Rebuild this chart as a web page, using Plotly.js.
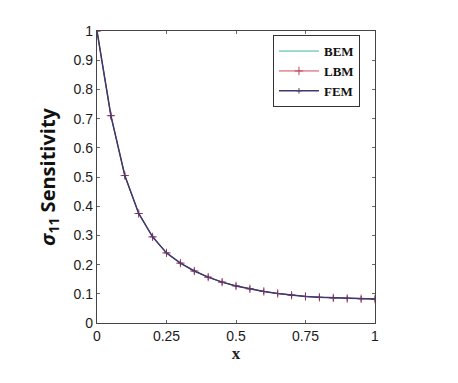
<!DOCTYPE html>
<html>
<head>
<meta charset="utf-8">
<script src="https://cdn.plot.ly/plotly-3.0.1.min.js"></script>
<style>
  body { margin: 0; background: #fff; }
  #chart { width: 458px; height: 383px; }
</style>
</head>
<body>
<div id="chart"></div>
<script>
// x positions and sensitivity values
var xVals = [0, 0.05, 0.1, 0.15, 0.2, 0.25, 0.3, 0.35, 0.4, 0.45, 0.5,
             0.55, 0.6, 0.65, 0.7, 0.75, 0.8, 0.85, 0.9, 0.95, 1];
var bemVals = [1, 0.71, 0.505, 0.375, 0.295, 0.24, 0.205, 0.178, 0.157, 0.14, 0.127,
               0.117, 0.108, 0.101, 0.095, 0.091, 0.088, 0.086, 0.084, 0.083, 0.082];
var lbmVals = [1, 0.71, 0.505, 0.375, 0.295, 0.24, 0.205, 0.178, 0.157, 0.14, 0.127,
               0.117, 0.108, 0.101, 0.095, 0.091, 0.088, 0.086, 0.084, 0.083, 0.082];
var femVals = [1, 0.71, 0.505, 0.375, 0.295, 0.24, 0.205, 0.178, 0.157, 0.14, 0.127,
               0.117, 0.108, 0.101, 0.095, 0.091, 0.088, 0.086, 0.084, 0.083, 0.082];

var xTicks = [0, 0.25, 0.5, 0.75, 1];
var xTickText = ["0", "0.25", "0.5", "0.75", "1"];
var yTicks = [0, 0.1, 0.2, 0.3, 0.4, 0.5, 0.6, 0.7, 0.8, 0.9, 1];
var yTickText = ["0", "0.1", "0.2", "0.3", "0.4", "0.5", "0.6", "0.7", "0.8", "0.9", "1"];

var bem = {
  x: xVals, y: bemVals, name: "BEM", type: "scatter", mode: "lines",
  line: { color: "#3fb6a0", width: 1 }
};
var lbm = {
  x: xVals, y: lbmVals, name: "LBM", type: "scatter", mode: "lines+markers",
  line: { color: "#d04a5a", width: 1 },
  marker: { symbol: "cross-thin", size: 6, line: { color: "#c0405a", width: 1 } }
};
var fem = {
  x: xVals, y: femVals, name: "FEM", type: "scatter", mode: "lines+markers",
  line: { color: "#3c3a6c", width: 1.5 },
  marker: { symbol: "cross-thin", size: 4, line: { color: "#5a3a70", width: 1 } }
};

var data = [bem, lbm, fem];

var layout = {
  width: 458, height: 383,
  margin: { l: 97, r: 83, t: 31, b: 60 },
  paper_bgcolor: "#fff", plot_bgcolor: "#fff",
  font: { family: "Liberation Sans, Arial, sans-serif", size: 14, color: "#1a1a1a" },
  showlegend: true,
  legend: {
    x: 0.633, y: 0.986, xanchor: "left", yanchor: "top",
    bgcolor: "#fff", bordercolor: "#333", borderwidth: 1,
    font: { family: "Liberation Serif, Times New Roman, serif", size: 13, color: "#111", weight: "bold" },
    itemwidth: 40, tracegroupgap: 0
  },
  xaxis: {
    range: [0, 1], tickvals: xTicks, ticktext: xTickText,
    showgrid: false, zeroline: false,
    showline: true, linecolor: "#444", linewidth: 1.2, mirror: "ticks",
    ticks: "inside", ticklen: 3, tickcolor: "#666",
    title: { text: "x", standoff: 2,
             font: { family: "Liberation Serif, Times New Roman, serif", size: 17, color: "#222", weight: "bold" } }
  },
  yaxis: {
    range: [0, 1], tickvals: yTicks, ticktext: yTickText,
    showgrid: false, zeroline: false,
    showline: true, linecolor: "#444", linewidth: 1.2, mirror: "ticks",
    ticks: "inside", ticklen: 3, tickcolor: "#666",
    title: { text: "<b><i>σ</i><sub>11</sub> Sensitivity</b>", standoff: 12,
             font: { family: "Open Sans, sans-serif", size: 20, color: "#111" } }
  }
};

Plotly.newPlot("chart", data, layout, { displayModeBar: false, staticPlot: true });
</script>
</body>
</html>
